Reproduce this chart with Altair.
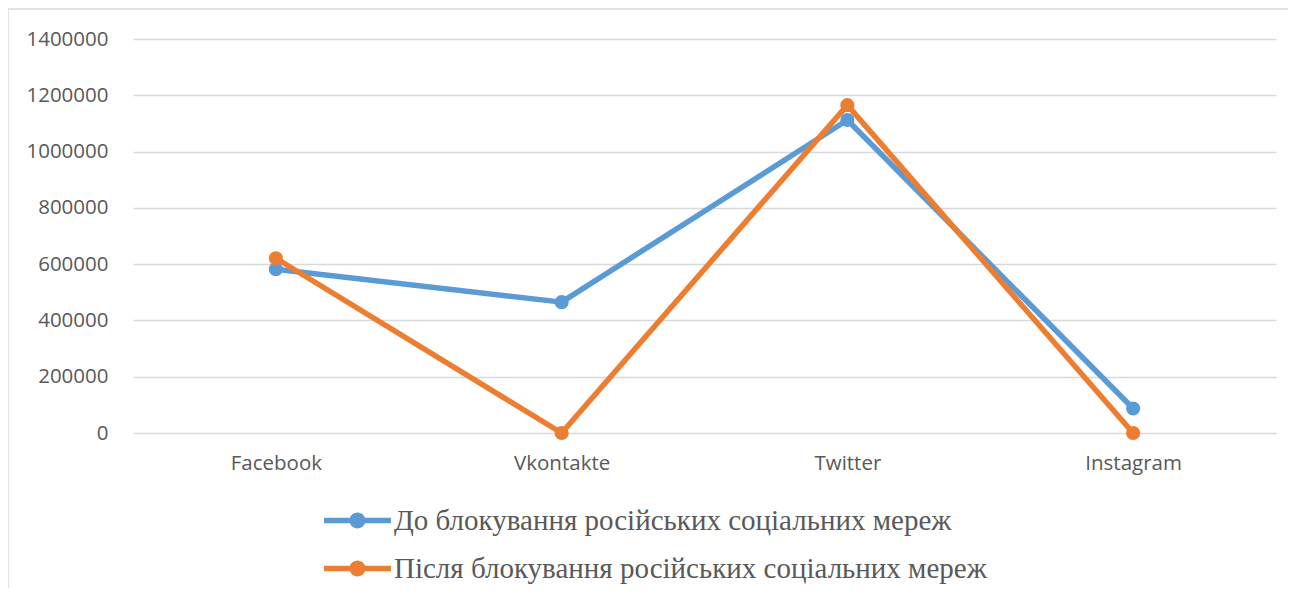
import altair as alt
import pandas as pd

categories = ["Facebook", "Vkontakte", "Twitter", "Instagram"]
series_names = [
    "До блокування російських соціальних мереж",
    "Після блокування російських соціальних мереж",
]
before_values = [582000, 465000, 1112000, 87000]
after_values = [621000, 0, 1165000, 0]
y_ticks = [0, 200000, 400000, 600000, 800000, 1000000, 1200000, 1400000]
colors = ["#5b9bd5", "#ed7d31"]

rows = []
for i, c in enumerate(categories):
    rows.append({"cat": c, "series": series_names[0], "value": before_values[i], "order": 0})
    rows.append({"cat": c, "series": series_names[1], "value": after_values[i], "order": 1})
df = pd.DataFrame(rows)

W, H = 1143, 394
PL, PT = 125, 31

x_enc = alt.X("cat:N", sort=categories, title=None,
              scale=alt.Scale(type="point", padding=0.5),
              axis=alt.Axis(labelAngle=0, labelFont="Open Sans", labelFontSize=20.5,
                            labelColor="#595959", labelPadding=20, domain=False,
                            ticks=False, grid=False))
y_enc = alt.Y("value:Q", title=None,
              scale=alt.Scale(domain=[0, 1400000], nice=False),
              axis=alt.Axis(values=y_ticks, format="d", labelFont="Open Sans",
                            labelFontSize=20.5, labelColor="#595959", labelPadding=25,
                            domain=False, ticks=False, gridColor="#d9d9d9",
                            gridWidth=1.6))

color_scale = alt.Scale(domain=series_names, range=colors)

legend_path = ("M-1,-0.2L3.96,-0.2L3.96,0.2L-1,0.2Z "
               "M2.07,0A0.59,0.59 0 1,1 0.89,0A0.59,0.59 0 1,1 2.07,0Z")

legend = alt.Legend(title=None, orient="none", legendX=190, legendY=467,
                    direction="vertical", symbolType=legend_path,
                    symbolSize=729, symbolStrokeWidth=0, symbolOpacity=1,
                    labelOffset=42, rowPadding=18,
                    labelFont="Liberation Serif", labelFontSize=29,
                    labelColor="#595959", labelLimit=1000, padding=0)

lines = alt.Chart(df).mark_line(strokeWidth=5.5, strokeCap="round", strokeJoin="round").encode(
    x=x_enc, y=y_enc,
    color=alt.Color("series:N", scale=color_scale, legend=legend),
    detail="series:N",
    order=alt.Order("order:Q"),
)

points = alt.Chart(df).mark_circle(size=200, opacity=1).encode(
    x=x_enc, y=y_enc,
    color=alt.Color("series:N", scale=color_scale, legend=legend),
    order=alt.Order("order:Q"),
)

frame = alt.Chart(alt.Data(values=[{"a": 1}])).mark_rect(
    fill="white", fillOpacity=0, stroke="#d9d9d9", strokeWidth=1.5
).encode(
    x=alt.value(-PL), x2=alt.value(W + 200),
    y=alt.value(-PT + 1), y2=alt.value(H + 400),
)

chart = alt.layer(frame, lines, points).properties(
    width=W, height=H,
    background="white",
    autosize=alt.AutoSizeParams(type="none"),
    padding={"left": PL, "top": PT, "right": 12, "bottom": 155},
).configure_view(strokeWidth=0, stroke=None)

chart.save("out.html", embed_options={"renderer": "svg", "actions": False})
